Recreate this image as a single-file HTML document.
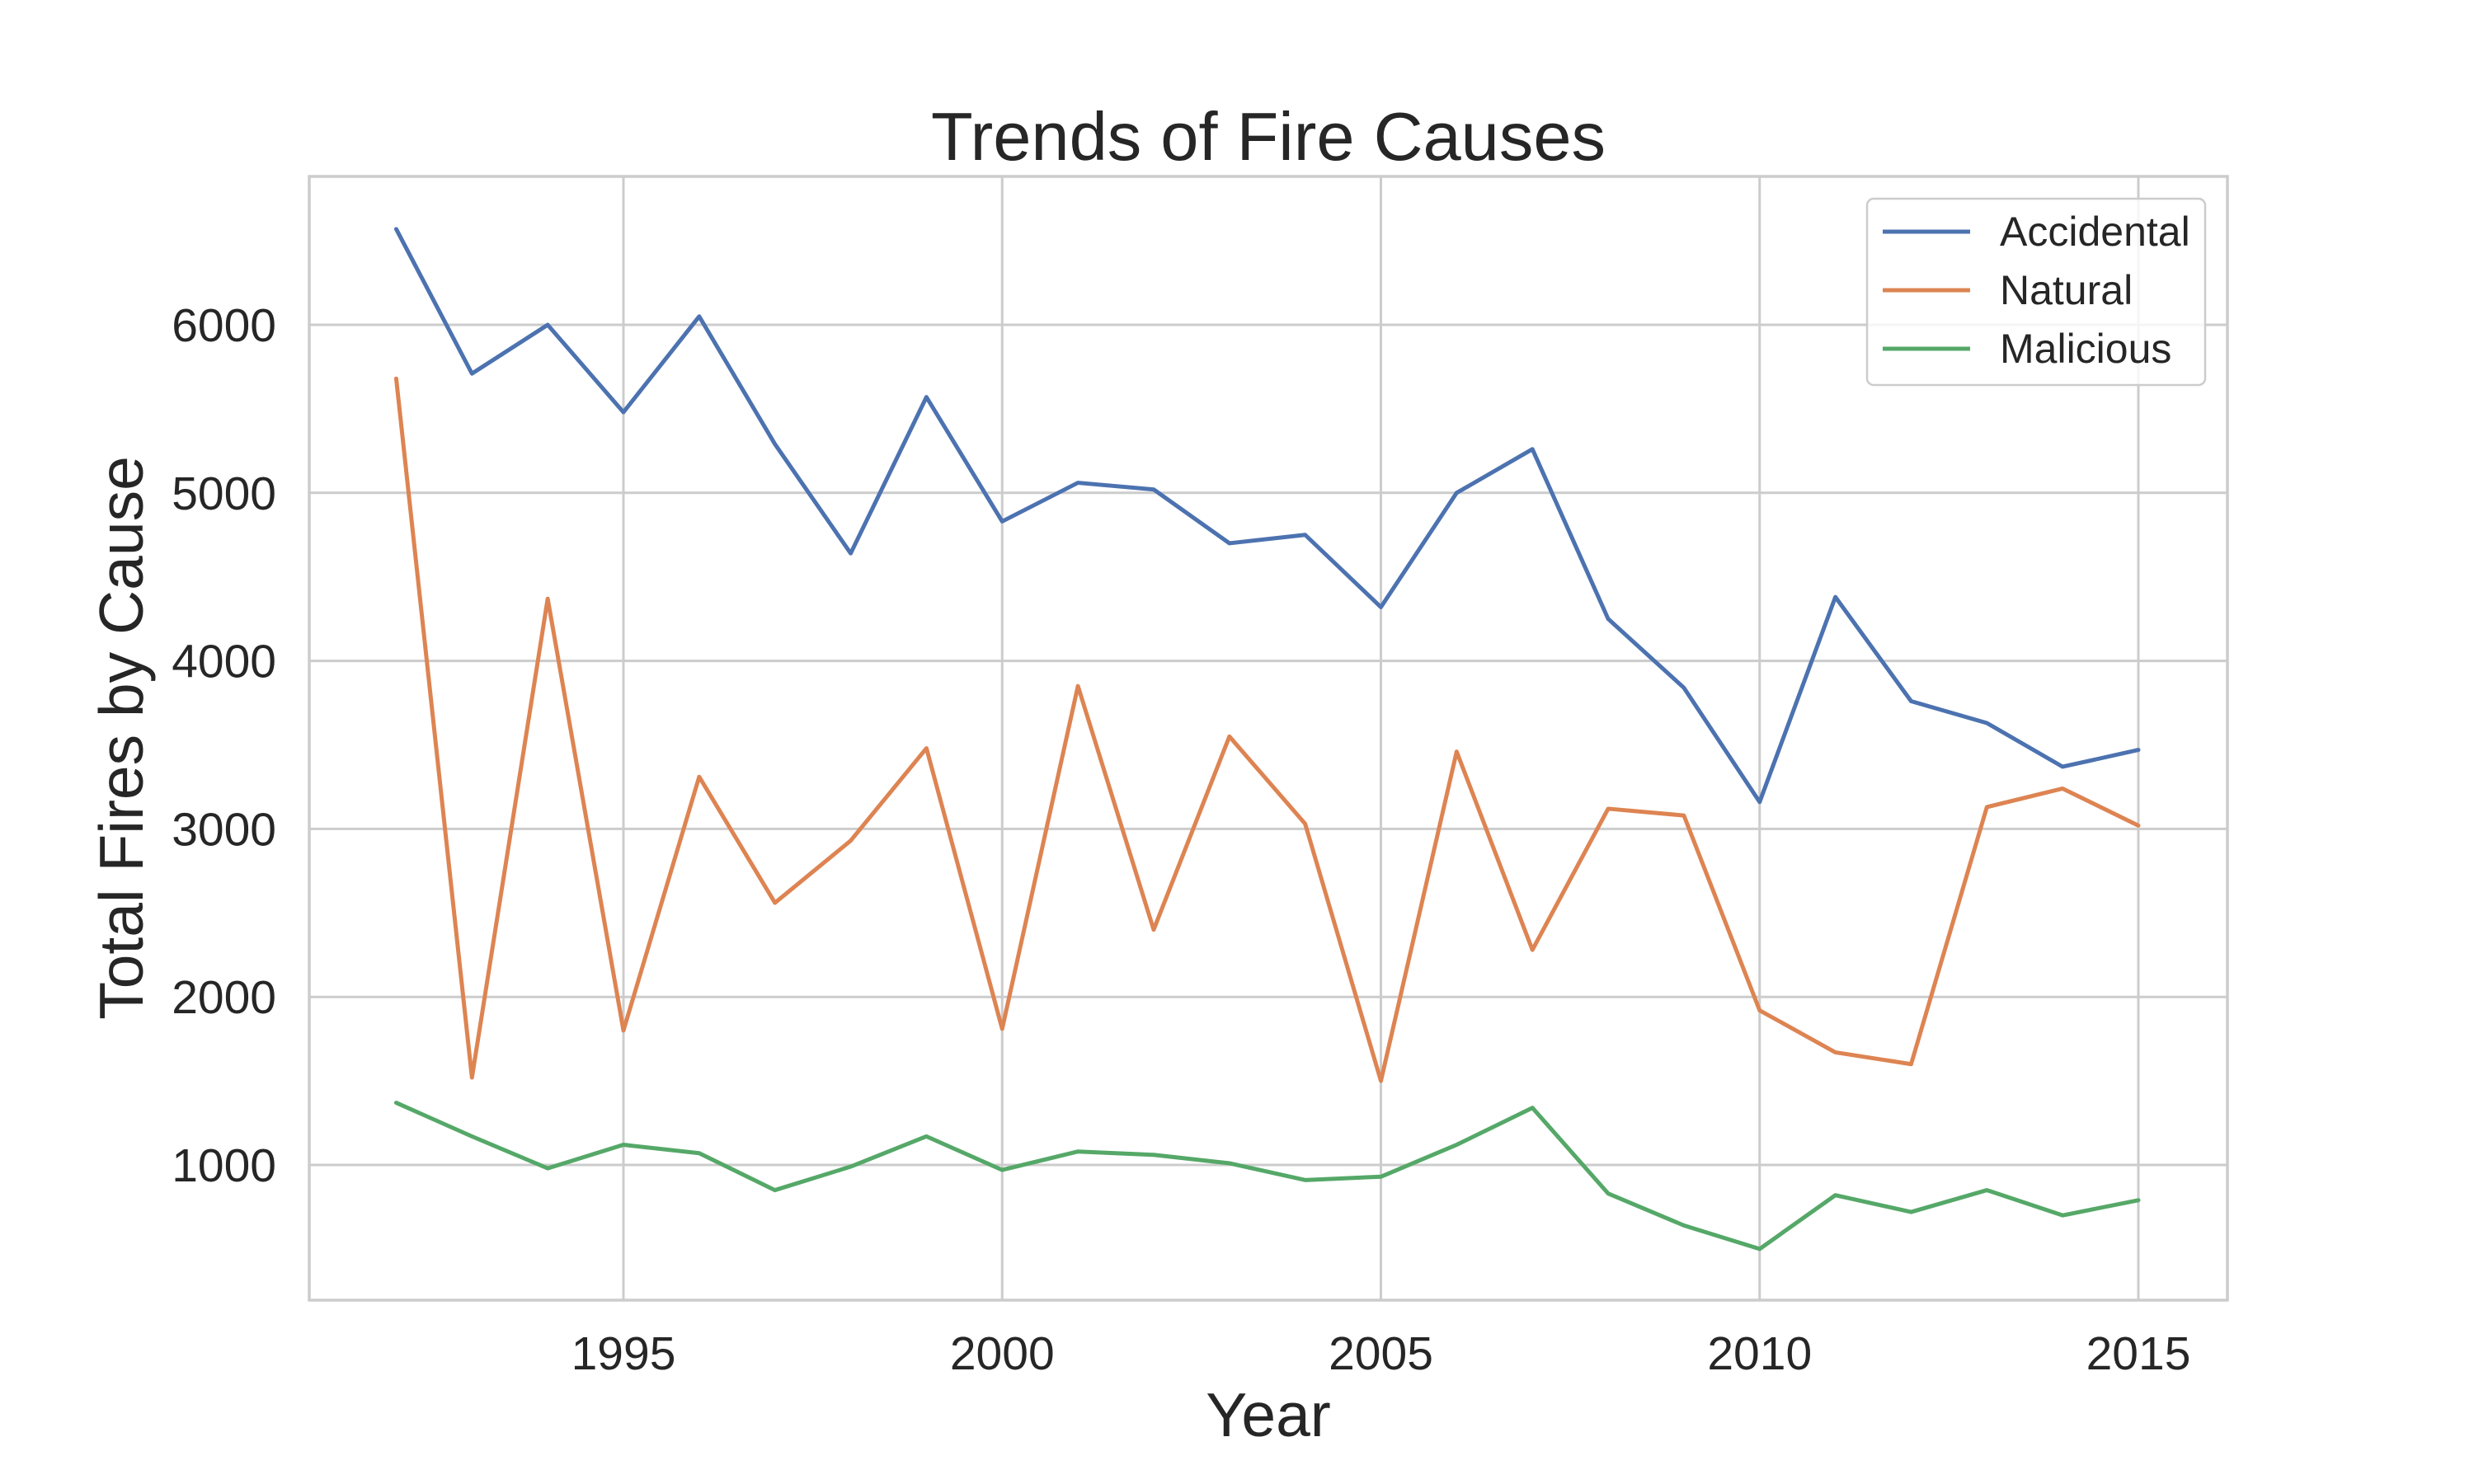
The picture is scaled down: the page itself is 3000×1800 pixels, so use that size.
<!DOCTYPE html>
<html><head><meta charset="utf-8"><style>
html,body{margin:0;padding:0;background:#fff}
svg{display:block;font-family:"Liberation Sans",sans-serif}
</style></head><body>
<svg id="chart" width="3000" height="1800" viewBox="0 0 3000 1800"></svg>
<script>
const years=[1992,1993,1994,1995,1996,1997,1998,1999,2000,2001,2002,2003,2004,2005,2006,2007,2008,2009,2010,2011,2012,2013,2014,2015];
const accidental=[6570,5710,6000,5480,6050,5290,4640,5570,4830,5060,5020,4700,4750,4320,5000,5260,4250,3840,3160,4380,3760,3630,3370,3470];
const natural=[5680,1520,4370,1800,3310,2560,2930,3480,1810,3850,2400,3550,3030,1500,3460,2280,3120,3080,1920,1670,1600,3130,3240,3020];
const malicious=[1370,1170,980,1120,1070,850,990,1170,970,1080,1060,1010,910,930,1120,1340,830,640,500,820,720,850,700,790];
const xTicks=[1995,2000,2005,2010,2015];
const yTicks=[1000,2000,3000,4000,5000,6000];
const seriesNames=["Accidental","Natural","Malicious"];

const L=375,R=2701,T=214,B=1577;
const x=v=>756+(v-1995)*(2593-756)/20;
const y=v=>1413-(v-1000)*(1413-394)/5000;
const ns="http://www.w3.org/2000/svg";
const svg=document.getElementById('chart');
function mk(tag,attrs,parent){const e=document.createElementNS(ns,tag);for(const k in attrs)e.setAttribute(k,attrs[k]);(parent||svg).appendChild(e);return e;}

xTicks.forEach(t=>{
  const g=mk('line',{x1:x(t),x2:x(t),y1:T,y2:B,stroke:'#cccccc','stroke-width':3});
  
  
  const tx=mk('text',{x:x(t),y:1661,'text-anchor':'middle','font-size':57,fill:'#262626'});
  tx.textContent=t;
  
  
});
yTicks.forEach(t=>{
  const g=mk('line',{x1:L,x2:R,y1:y(t),y2:y(t),stroke:'#cccccc','stroke-width':3});
  
  
  const tx=mk('text',{x:335,y:y(t)+20,'text-anchor':'end','font-size':57,fill:'#262626'});
  tx.textContent=t;
  
  
});
const frame=mk('rect',{x:L,y:T,width:R-L,height:B-T,fill:'none',stroke:'#cccccc','stroke-width':3.5});



const colors=['#4c72b0','#dd8452','#55a868'];
[accidental,natural,malicious].forEach((s,i)=>{
  const p=mk('polyline',{points:s.map((v,j)=>x(years[j])+','+y(v)).join(' '),fill:'none',stroke:colors[i],'stroke-width':5,'stroke-linejoin':'round','stroke-linecap':'round'});
  
  
});

const lg=mk('rect',{x:2264,y:241,width:410,height:226,rx:8,fill:'#fff','fill-opacity':0.8,stroke:'#cccccc','stroke-width':2.5});


seriesNames.forEach((n,i)=>{
  const yy=281+i*71;
  const l=mk('line',{x1:2283,x2:2389,y1:yy,y2:yy,stroke:colors[i],'stroke-width':5});
  
  
  const t=mk('text',{x:2425,y:yy+17,'font-size':50,fill:'#262626'});
  t.textContent=n;
  
  
});

const title=mk('text',{x:1538,y:194,'text-anchor':'middle','font-size':83,fill:'#262626'});
title.textContent='Trends of Fire Causes';


const xl=mk('text',{x:1538,y:1742,'text-anchor':'middle','font-size':75,fill:'#262626'});
xl.textContent='Year';


const yl=mk('text',{x:0,y:0,'text-anchor':'middle','font-size':75,fill:'#262626',transform:'translate(173,895) rotate(-90)'});
yl.textContent='Total Fires by Cause';


</script>
</body></html>
